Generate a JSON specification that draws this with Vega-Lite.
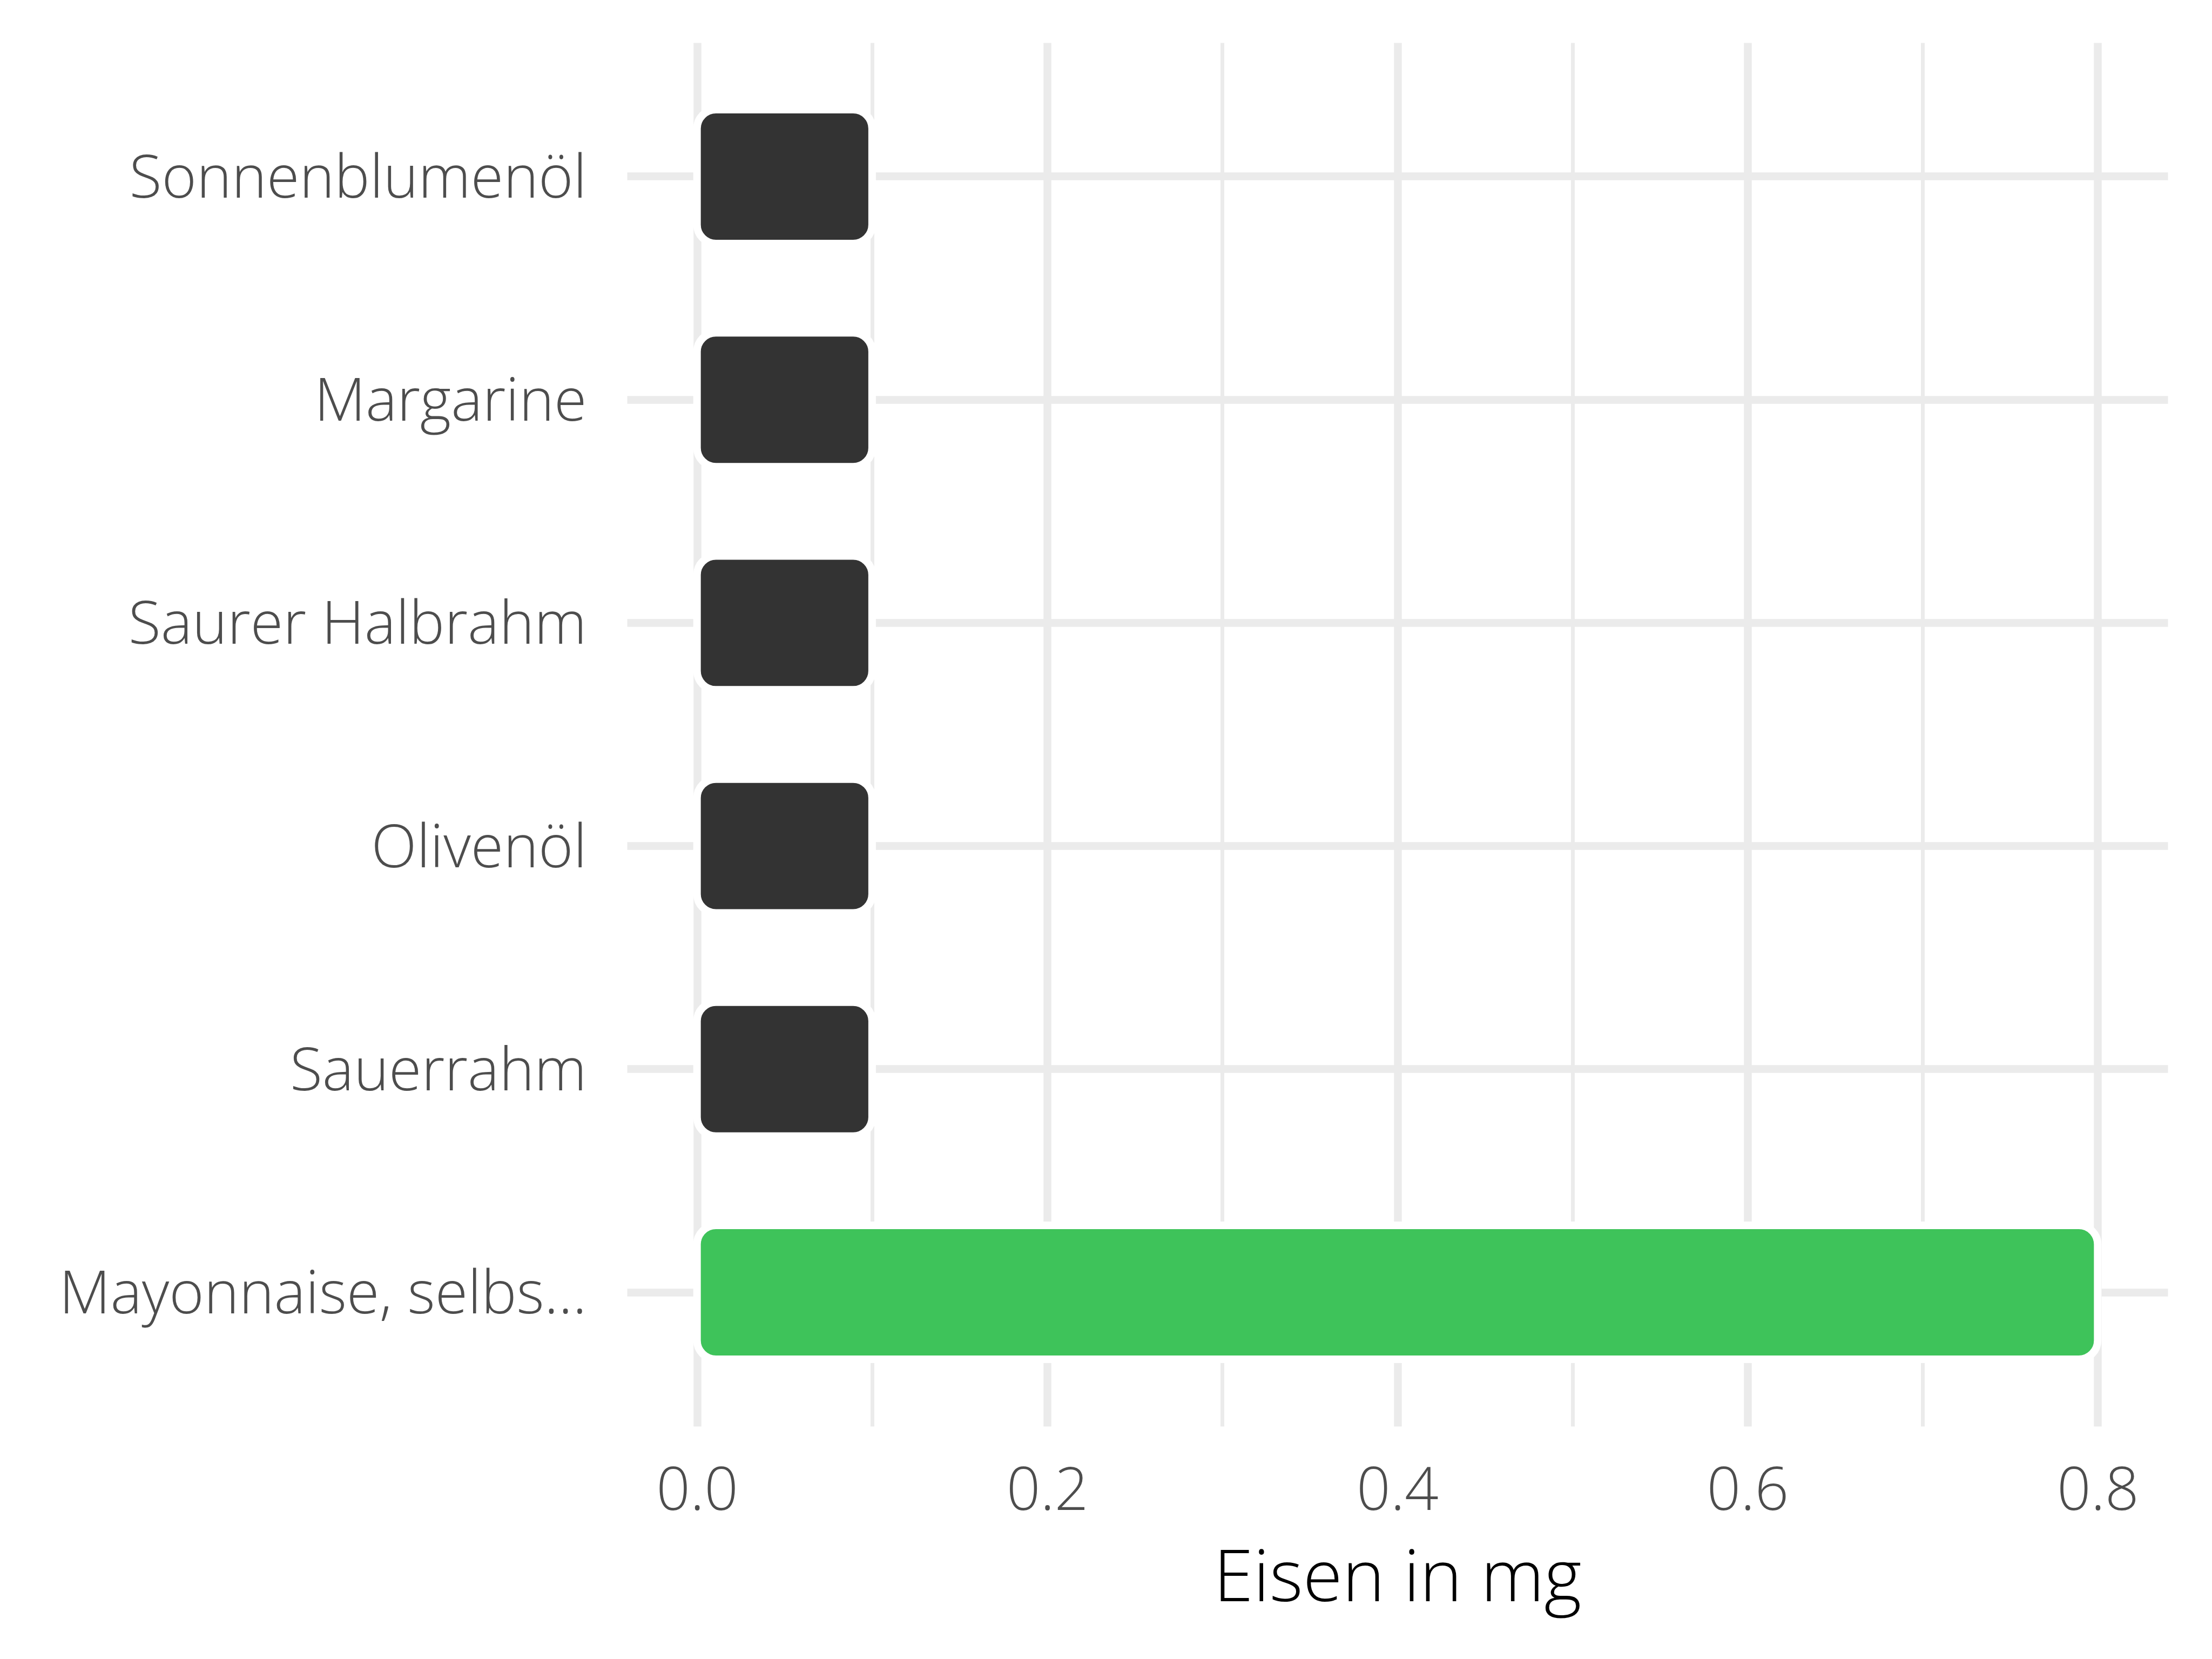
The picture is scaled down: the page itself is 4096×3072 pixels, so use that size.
{
  "$schema": "https://vega.github.io/schema/vega-lite/v6.json",
  "autosize": {"type": "none"},
  "padding": {"left": 1161, "top": 79, "right": 82, "bottom": 431},
  "width": 2853,
  "height": 2562,
  "background": "white",
  "config": {
    "view": {"stroke": null},
    "font": "Open Sans"
  },
  "data": {
    "values": [
      {"lebensmittel": "Sonnenblumenöl", "eisen": 0.1, "gruppe": "andere"},
      {"lebensmittel": "Margarine", "eisen": 0.1, "gruppe": "andere"},
      {"lebensmittel": "Saurer Halbrahm", "eisen": 0.1, "gruppe": "andere"},
      {"lebensmittel": "Olivenöl", "eisen": 0.1, "gruppe": "andere"},
      {"lebensmittel": "Sauerrahm", "eisen": 0.1, "gruppe": "andere"},
      {"lebensmittel": "Mayonnaise, selbs...", "eisen": 0.8, "gruppe": "hervorgehoben"}
    ]
  },
  "mark": {
    "type": "bar",
    "cornerRadiusEnd": 35,
    "stroke": "white",
    "strokeWidth": 14
  },
  "encoding": {
    "y": {
      "field": "lebensmittel",
      "type": "nominal",
      "sort": null,
      "scale": {"paddingInner": 0.4, "paddingOuter": 0.3},
      "axis": {
        "title": null,
        "domain": false,
        "ticks": false,
        "tickSize": 0,
        "bandPosition": 0.5,
        "grid": true,
        "gridColor": "#EBEBEB",
        "gridWidth": 14.5,
        "labelFont": "Open Sans",
        "labelFontWeight": 300,
        "labelFontSize": 110,
        "labelColor": "#4D4D4D",
        "labelAlign": "right",
        "labelBaseline": "alphabetic",
        "labelOffset": 39,
        "labelPadding": 75,
        "labelLimit": 3000
      }
    },
    "x": {
      "field": "eisen",
      "type": "quantitative",
      "scale": {"domain": [-0.04, 0.84], "nice": false, "zero": false},
      "axis": {
        "title": "Eisen in mg",
        "values": [0, 0.1, 0.2, 0.3, 0.4, 0.5, 0.6, 0.7, 0.8],
        "labelExpr": "round(datum.value * 10) % 2 === 0 ? format(datum.value, '.1f') : ''",
        "domain": false,
        "ticks": false,
        "tickSize": 0,
        "grid": true,
        "gridColor": "#EBEBEB",
        "gridWidth": {"condition": {"test": "round(datum.value * 10) % 2 === 0", "value": 14.5}, "value": 7},
        "labelFont": "Open Sans",
        "labelFontWeight": 300,
        "labelFontSize": 110,
        "labelColor": "#4D4D4D",
        "labelBaseline": "alphabetic",
        "labelPadding": 154,
        "labelFlush": false,
        "labelOverlap": false,
        "titleFont": "Open Sans",
        "titleFontWeight": 300,
        "titleFontSize": 133,
        "titleColor": "#000000",
        "titleBaseline": "alphabetic",
        "titleAlign": "center",
        "titleX": 1426.5,
        "titleY": 323
      }
    },
    "x2": {"datum": 0},
    "color": {
      "field": "gruppe",
      "type": "nominal",
      "scale": {"domain": ["andere", "hervorgehoben"], "range": ["#333333", "#3EC35A"]},
      "legend": null
    }
  }
}
